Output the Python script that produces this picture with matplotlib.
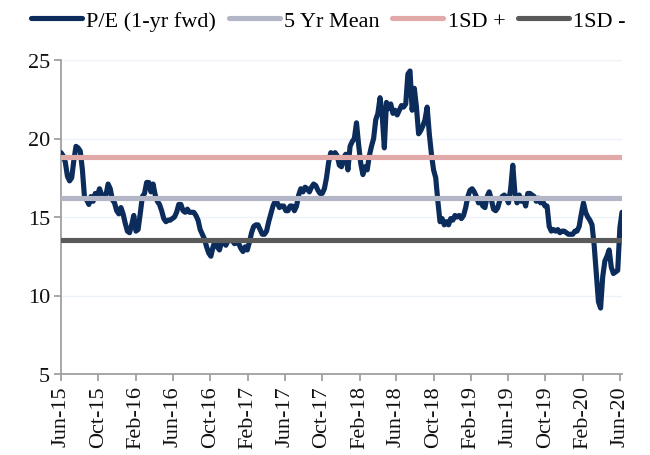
import numpy as np
import pandas as pd
import matplotlib
matplotlib.use('Agg')
import matplotlib.pyplot as plt
import matplotlib.dates as mdates

# weekly P/E (1-yr fwd), Jun-15 .. Jun-20
start_date = '2015-06-01'
pe_fwd = [
    19.1, 18.9, 18.5, 17.6, 17.3, 17.5, 18.6, 19.5, 19.4, 19.2,
    18.0, 16.2, 16.1, 15.8, 16.3, 16.0, 16.5, 16.4, 16.8, 16.4,
    16.4, 16.4, 17.1, 16.8, 16.1, 15.9, 15.4, 15.2, 15.6, 15.2,
    14.6, 14.1, 14.0, 14.5, 15.1, 14.1, 14.2, 15.2, 16.3, 16.5,
    17.2, 17.2, 16.6, 17.1, 16.4, 16.0, 15.8, 15.4, 14.9, 14.7,
    14.8, 14.8, 14.9, 15.0, 15.3, 15.8, 15.8, 15.4, 15.3, 15.5,
    15.3, 15.3, 15.3, 15.1, 14.8, 14.2, 13.9, 13.6, 13.1, 12.7,
    12.5, 13.1, 13.5, 13.1, 12.9, 13.4, 13.4, 13.2, 13.5, 13.5,
    13.5, 13.3, 13.4, 13.3, 13.0, 12.8, 13.1, 12.9, 13.4, 14.0,
    14.4, 14.5, 14.5, 14.2, 13.9, 13.9, 14.1, 14.7, 15.2, 15.7,
    16.0, 15.9, 15.6, 15.7, 15.7, 15.4, 15.4, 15.7, 15.7, 15.4,
    15.7, 16.4, 16.8, 16.6, 16.9, 16.8, 16.6, 16.9, 17.1, 17.0,
    16.7, 16.5, 16.5, 16.8, 17.5, 18.5, 19.1, 18.9, 19.1, 18.9,
    18.3, 18.2, 18.8, 19.0, 18.0, 19.5, 19.8, 20.0, 21.0, 19.6,
    18.4, 17.7, 18.2, 18.0, 18.9, 19.5, 20.0, 21.2, 21.6, 22.6,
    21.5, 19.4, 22.3, 21.9, 22.2, 21.6, 21.8, 21.5, 21.8, 22.1,
    22.0, 22.2, 24.1, 24.3, 21.8, 23.2, 22.0, 20.3, 20.5, 20.8,
    21.2, 22.0, 20.3, 19.0, 18.0, 17.5, 16.0, 14.7, 14.9, 14.5,
    14.7, 14.5, 14.9, 14.8, 15.1, 15.0, 15.1, 14.9, 15.1, 15.6,
    16.3, 16.7, 16.8, 16.6, 16.3, 15.9, 16.0, 15.7, 15.6, 16.3,
    16.6, 16.1, 15.5, 15.4, 15.6, 16.1, 16.3, 16.4, 16.2, 15.9,
    16.8, 18.3, 16.5, 15.9, 16.4, 16.0, 16.2, 15.7, 16.5, 16.5,
    16.4, 16.3, 16.0, 16.2, 15.9, 16.0, 15.7, 15.7, 14.4, 14.1,
    14.2, 14.1, 14.2, 14.0, 14.1, 14.1, 14.0, 13.9, 13.9, 13.9,
    14.1, 14.1, 14.4, 15.2, 15.9, 15.3, 15.0, 14.8, 14.5, 13.2,
    11.4, 9.6, 9.2, 11.2, 12.2, 12.5, 12.9, 11.8, 11.4, 11.5,
    11.6, 14.3, 15.3,
]
mean_5yr = 16.2
sd_plus = 18.85
sd_minus = 13.55

series_labels = ['P/E (1-yr fwd)', '5 Yr Mean', '1SD +', '1SD -']
tick_dates = pd.date_range('2015-06-01', '2020-06-01', freq='4MS')

dates = pd.date_range(start_date, periods=len(pe_fwd), freq='7D')
df = pd.DataFrame({'date': dates, 'pe': pe_fwd})

plt.rcParams['font.family'] = ['Liberation Serif', 'DejaVu Serif']

fig = plt.figure(figsize=(6.5, 4.56), dpi=100, facecolor='w')
ax = fig.add_axes([61/650, 1-375/456, 561/650, 314/456])

ax.plot(df['date'], df['pe'], color='#0c2c5c', lw=3.7,
        solid_joinstyle='round', solid_capstyle='round',
        label=series_labels[0], zorder=3)
ax.axhline(mean_5yr, color='#b3b6c6', lw=3.7, solid_capstyle='round',
           label=series_labels[1], zorder=4)
ax.axhline(sd_plus, color='#e2a9a9', lw=3.7, solid_capstyle='round',
           label=series_labels[2], zorder=4)
ax.axhline(sd_minus, color='#5a5a5a', lw=3.7, solid_capstyle='round',
           label=series_labels[3], zorder=4)

ax.set_ylim(5, 25)
ax.set_yticks([5, 10, 15, 20, 25])
ax.set_xlim(df['date'].iloc[0], df['date'].iloc[-1])
ax.set_xticks(tick_dates)
ax.xaxis.set_major_formatter(mdates.DateFormatter('%b-%y'))
plt.setp(ax.get_xticklabels(), rotation=90, va='top', ha='center')

ax.grid(axis='y', color='#edf1f8', lw=1, zorder=0)
for s in ['top', 'right']:
    ax.spines[s].set_visible(False)
for s in ['left', 'bottom']:
    ax.spines[s].set_color('#a0a0a0')
    ax.spines[s].set_linewidth(1.3)
ax.tick_params(axis='both', which='major', labelsize=16, length=5,
               width=1.3, color='#a0a0a0', labelcolor='#111111', pad=3)

fig.legend(
    loc='upper center', bbox_to_anchor=(0.505, 1.0),
    ncol=4, frameon=False, fontsize=16,
    handlelength=2.3, handletextpad=0.2, columnspacing=0.55,
    borderaxespad=0.1,
)

fig.savefig('out.png', dpi=100)
